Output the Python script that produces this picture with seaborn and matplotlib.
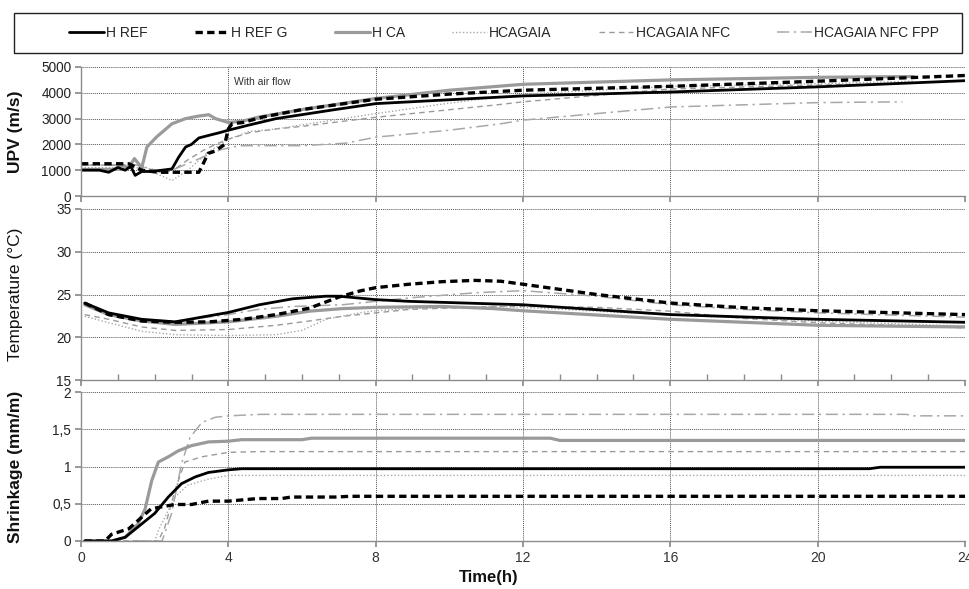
import matplotlib
matplotlib.use("Agg")
import matplotlib.pyplot as plt
from matplotlib.lines import Line2D
from matplotlib.patches import Rectangle
from matplotlib.ticker import MultipleLocator, FuncFormatter
import seaborn as sns
import pandas as pd

sns.set_theme(style="white")
plt.rcParams['font.family'] = ['Liberation Sans', 'DejaVu Sans']

series_names = ["H REF", "H REF G", "H CA", "HCAGAIA", "HCAGAIA NFC", "HCAGAIA NFC FPP"]

# ---------------- UPV (m/s) ----------------
upv_t_href = [0, 0.5, 0.75, 1.0, 1.2, 1.35, 1.47, 1.65, 1.9, 2.2, 2.47, 2.65, 2.84, 3.0, 3.2, 3.47, 3.75, 4.0, 4.56, 5.3, 6.9, 8, 10, 12, 16, 20, 24]
upv_v_href = [1000, 1000, 920, 1100, 1000, 1150, 800, 950, 950, 1000, 1050, 1500, 1900, 2000, 2250, 2350, 2450, 2550, 2750, 3000, 3350, 3580, 3730, 3880, 4030, 4230, 4470]
upv_t_hrefg = [0, 1.3, 1.65, 2.1, 3.2, 3.3, 3.45, 3.65, 3.9, 4.0, 4.1, 4.4, 4.9, 6, 8, 10, 12, 16, 20, 24]
upv_v_hrefg = [1250, 1250, 1000, 920, 920, 1200, 1650, 1750, 2000, 2600, 2800, 2850, 3050, 3350, 3750, 3950, 4100, 4250, 4450, 4670]
upv_t_hca = [0, 0.9, 1.1, 1.3, 1.45, 1.65, 1.79, 2.06, 2.47, 2.84, 3.2, 3.47, 3.65, 4.0, 4.38, 4.8, 6, 8, 10, 12, 16, 20, 22.6]
upv_v_hca = [1030, 1030, 1200, 1100, 1450, 1100, 1900, 2300, 2800, 3000, 3100, 3150, 3000, 2850, 2900, 3050, 3350, 3780, 4100, 4330, 4500, 4600, 4630]
upv_t_gaia = [0, 1.5, 2.0, 2.47, 2.9, 3.45, 4.0, 4.56, 5.3, 6.2, 7.8, 10, 12, 16, 20, 22.6]
upv_v_gaia = [1100, 1100, 900, 600, 1000, 1700, 2200, 2500, 2600, 2800, 3150, 3600, 3950, 4250, 4350, 4450]
upv_t_nfc = [0, 1.5, 2.2, 2.56, 2.9, 3.3, 3.65, 4.0, 4.56, 5.3, 6, 8, 11.4, 12, 16, 20, 22.6]
upv_v_nfc = [1200, 1200, 900, 1050, 1400, 1750, 2000, 2200, 2450, 2600, 2700, 3050, 3550, 3650, 4150, 4300, 4370]
upv_t_fpp = [0, 1.5, 2.3, 3.3, 3.8, 4.3, 5.0, 6.0, 7.2, 8, 10, 11.4, 12, 16, 20, 22.3]
upv_v_fpp = [1200, 1200, 900, 1500, 1800, 1950, 1950, 1950, 2050, 2280, 2550, 2800, 2940, 3450, 3620, 3650]

# ---------------- Temperature (°C) ----------------
tmp_t_href = [0.1, 0.75, 1.65, 2.56, 3.47, 4.0, 4.84, 5.75, 6.65, 7.0, 8, 8.9, 11.2, 12, 16, 20, 24]
tmp_v_href = [24.0, 22.85, 22.1, 21.8, 22.5, 22.9, 23.8, 24.5, 24.8, 24.8, 24.4, 24.2, 23.9, 23.8, 22.65, 22.1, 21.75]
tmp_t_hrefg = [0.1, 0.75, 1.65, 2.56, 3.47, 4.4, 5.3, 6.2, 7.0, 7.56, 8, 8.9, 9.8, 10.7, 11.4, 12, 14, 16, 18, 20, 24]
tmp_v_hrefg = [24.0, 22.65, 21.9, 21.75, 21.8, 22.1, 22.65, 23.4, 24.7, 25.4, 25.8, 26.2, 26.5, 26.65, 26.55, 26.2, 25.0, 24.0, 23.45, 23.1, 22.65]
tmp_t_hca = [0.1, 0.75, 1.65, 2.56, 4.0, 5.3, 6.2, 7.1, 8, 9.8, 11.2, 12, 16, 20, 24]
tmp_v_hca = [23.8, 22.65, 21.9, 21.5, 21.8, 22.45, 23.05, 23.35, 23.5, 23.6, 23.35, 23.1, 22.1, 21.4, 21.2]
tmp_t_gaia = [0.1, 0.75, 1.65, 2.56, 4.0, 5.3, 6.0, 6.65, 7.56, 8, 8.9, 11.2, 12, 16, 20, 24]
tmp_v_gaia = [22.45, 21.7, 20.7, 20.3, 20.2, 20.3, 20.8, 22.1, 22.85, 23.1, 23.35, 23.6, 23.5, 22.6, 21.9, 21.3]
tmp_t_nfc = [0.1, 0.75, 1.65, 2.56, 4.0, 5.3, 6.2, 7.1, 8, 8.9, 11.2, 12, 14, 16, 18, 20, 24]
tmp_v_nfc = [22.65, 22.1, 21.2, 20.8, 20.9, 21.4, 21.9, 22.45, 22.85, 23.25, 23.6, 23.6, 23.5, 23.05, 22.2, 21.7, 21.1]
tmp_t_fpp = [0.1, 0.75, 1.65, 2.56, 4.0, 4.8, 5.75, 7.1, 8, 8.9, 10.7, 11.2, 12, 14, 16, 18, 20, 24]
tmp_v_fpp = [23.8, 22.7, 22.0, 21.9, 22.65, 23.25, 23.6, 23.8, 24.2, 24.6, 25.2, 25.3, 25.45, 24.8, 23.8, 23.25, 22.85, 22.35]

# ---------------- Shrinkage (mm/m) ----------------
shr_t_href = [0.1, 0.83, 1.2, 1.65, 2.0, 2.37, 2.73, 3.1, 3.46, 4.0, 4.36, 21.4, 21.7, 24]
shr_v_href = [0, 0, 0.05, 0.23, 0.37, 0.59, 0.77, 0.86, 0.92, 0.955, 0.97, 0.97, 0.99, 0.99]
shr_t_hrefg = [0.1, 0.65, 0.83, 1.3, 1.65, 1.9, 2.2, 2.55, 3.0, 3.46, 4.0, 4.8, 5.45, 5.7, 6.9, 7.3, 24]
shr_v_hrefg = [0, 0, 0.09, 0.165, 0.32, 0.43, 0.46, 0.49, 0.49, 0.535, 0.535, 0.57, 0.57, 0.59, 0.59, 0.6, 0.6]
shr_t_hca = [0.1, 0.83, 1.2, 1.55, 1.74, 1.92, 2.1, 2.37, 2.64, 3.0, 3.46, 4.0, 4.36, 6.0, 6.26, 12.74, 13.0, 24]
shr_v_hca = [0, 0, 0.05, 0.23, 0.43, 0.81, 1.06, 1.13, 1.21, 1.28, 1.33, 1.34, 1.36, 1.36, 1.38, 1.38, 1.35, 1.35]
shr_t_gaia = [0.1, 2.0, 2.1, 2.28, 2.55, 2.9, 3.46, 4.0, 24]
shr_v_gaia = [0, 0, 0.14, 0.32, 0.59, 0.75, 0.83, 0.88, 0.88]
shr_t_nfc = [0.1, 2.1, 2.28, 2.55, 2.82, 3.28, 4.0, 4.8, 24]
shr_v_nfc = [0, 0, 0.19, 0.68, 1.06, 1.13, 1.19, 1.2, 1.2]
shr_t_fpp = [0.1, 2.2, 2.46, 2.73, 2.96, 3.28, 3.64, 4.0, 4.9, 22.4, 22.6, 24]
shr_v_fpp = [0, 0, 0.37, 1.04, 1.39, 1.59, 1.66, 1.68, 1.7, 1.7, 1.68, 1.68]

x_ticks = [0, 4, 8, 12, 16, 20, 24]
upv_ticks = [0, 1000, 2000, 3000, 4000, 5000]
tmp_ticks = [15, 20, 25, 30, 35]
shr_ticks = [0, 0.5, 1, 1.5, 2]

styles = {
    "H REF": dict(color="#000000", linewidth=2.0, linestyle="-"),
    "H REF G": dict(color="#000000", linewidth=2.4, linestyle=(0, (2.2, 1.3))),
    "H CA": dict(color="#9a9a9a", linewidth=2.3, linestyle="-"),
    "HCAGAIA": dict(color="#a8a8a8", linewidth=1.0, linestyle=(0, (1, 1.5))),
    "HCAGAIA NFC": dict(color="#9a9a9a", linewidth=1.0, linestyle=(0, (4, 3))),
    "HCAGAIA NFC FPP": dict(color="#a8a8a8", linewidth=1.1, linestyle=(0, (8, 3, 1.5, 3))),
}

panels = [
    ("UPV (m/s)", [(upv_t_href, upv_v_href), (upv_t_hrefg, upv_v_hrefg), (upv_t_hca, upv_v_hca),
                   (upv_t_gaia, upv_v_gaia), (upv_t_nfc, upv_v_nfc), (upv_t_fpp, upv_v_fpp)],
     upv_ticks, (67, 196), "bold"),
    ("Temperature (°C)", [(tmp_t_href, tmp_v_href), (tmp_t_hrefg, tmp_v_hrefg), (tmp_t_hca, tmp_v_hca),
                          (tmp_t_gaia, tmp_v_gaia), (tmp_t_nfc, tmp_v_nfc), (tmp_t_fpp, tmp_v_fpp)],
     tmp_ticks, (209, 380), "normal"),
    ("Shrinkage (mm/m)", [(shr_t_href, shr_v_href), (shr_t_hrefg, shr_v_hrefg), (shr_t_hca, shr_v_hca),
                          (shr_t_gaia, shr_v_gaia), (shr_t_nfc, shr_v_nfc), (shr_t_fpp, shr_v_fpp)],
     shr_ticks, (392, 541), "bold"),
]

W, H = 969, 589
fig = plt.figure(figsize=(W / 100, H / 100), dpi=100)
fig.patch.set_facecolor("white")

x0, x1 = 81, 965
axes = []
draw_order = [5, 4, 3, 2, 1, 0]
for i, (label, data, yt, (ytop, ybot), weight) in enumerate(panels):
    ax = fig.add_axes([x0 / W, 1 - ybot / H, (x1 - x0) / W, (ybot - ytop) / H])
    ax.set_facecolor("white")
    for k in draw_order:
        t, v = data[k]
        df = pd.DataFrame({"t": t, "v": v})
        sns.lineplot(data=df, x="t", y="v", ax=ax, estimator=None, sort=False,
                     label=None, **styles[series_names[k]])
    ax.set_xlim(0, 24)
    ax.set_ylim(yt[0], yt[-1])
    ax.set_xticks(x_ticks)
    ax.set_yticks(yt)
    ax.grid(True, which="major", color="#555555", linestyle=(0, (1, 1)), linewidth=0.7)
    for s in ["top", "right"]:
        ax.spines[s].set_visible(False)
    for s in ["left", "bottom"]:
        ax.spines[s].set_color("#8c8c8c")
        ax.spines[s].set_linewidth(1.0)
    ax.tick_params(axis="y", direction="out", length=4, color="#8c8c8c", labelsize=9.8,
                   labelcolor="#222222", pad=3, left=True)
    ax.tick_params(axis="x", direction="out", length=4, color="#8c8c8c", labelsize=10,
                   labelcolor="#333333", bottom=True)
    ax.set_ylabel(label, fontsize=12.5, fontweight=weight, color="#111111", labelpad=8)
    ax.set_xlabel("")
    if i < 2:
        ax.tick_params(axis="x", labelbottom=False)
    if i == 1:
        ax.xaxis.set_minor_locator(MultipleLocator(1))
        ax.tick_params(axis="x", which="minor", direction="in", length=4, color="#8c8c8c", bottom=True)
    if i == 2:
        ax.yaxis.set_major_formatter(FuncFormatter(lambda v, p: ("%g" % v).replace(".", ",")))
        ax.set_xlabel("Time(h)", fontsize=12, fontweight="bold", color="#111111")
        ax.xaxis.set_label_coords((489 - x0) / (x1 - x0), (541 - 570) / (541 - 392))
    ax.yaxis.set_label_coords(-0.066, 0.5)
    axes.append(ax)

axes[0].text(4.15, 4430, "With air flow", fontsize=7.5, color="#333333", va="center", ha="left")

# legend frame
fig.patches.append(Rectangle((14 / W, 1 - 53 / H), (962 - 14) / W, 40 / H,
                             transform=fig.transFigure, fill=False,
                             edgecolor="#222222", linewidth=1.0))
handles = [Line2D([], [], **styles[n]) for n in series_names]
leg = fig.legend(handles, series_names, loc="center left", ncol=6,
                 bbox_to_anchor=(69 / W, 1 - 33 / H),
                 frameon=False, handlelength=2.5, handletextpad=0.15,
                 columnspacing=3.4, borderpad=0.0, borderaxespad=0.0,
                 prop={"size": 10})

fig.savefig("out.png", dpi=100, facecolor="white")
